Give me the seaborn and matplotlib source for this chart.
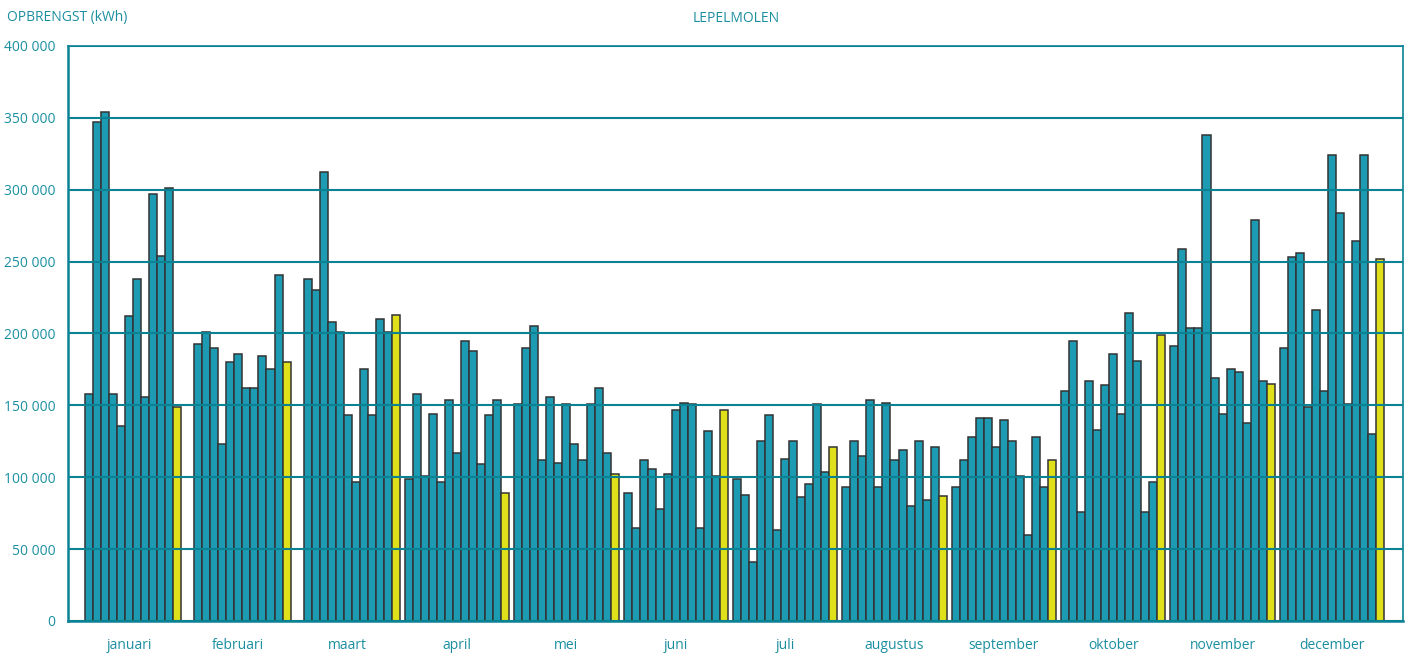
import numpy as np
import pandas as pd
import matplotlib
matplotlib.use("Agg")
import matplotlib.pyplot as plt
import seaborn as sns
from matplotlib.ticker import FuncFormatter, MultipleLocator

nan = np.nan

# opbrengst per maand (x 1000 kWh), 13 jaren, laatste jaar in geel
maanden = ["januari", "februari", "maart", "april", "mei", "juni", "juli",
           "augustus", "september", "oktober", "november", "december"]
jaren = [f"jaar {i}" for i in range(1, 14)]

januari = [nan, 158, 347, 354, 158, 136, 212, 238, 156, 297, 254, 301, 149]
februari = [nan, 193, 201, 190, 123, 180, 186, 162, 162, 184, 175, 241, 180]
maart = [nan, 238, 230, 312, 208, 201, 143, 97, 175, 143, 210, 201, 213]
april = [99, 158, 101, 144, 97, 154, 117, 195, 188, 109, 143, 154, 89]
mei = [151, 190, 205, 112, 156, 110, 151, 123, 112, 151, 162, 117, 102]
juni = [89, 65, 112, 106, 78, 102, 147, 152, 151, 65, 132, 101, 147]
juli = [99, 88, 41, 125, 143, 63, 113, 125, 86, 95, 151, 104, 121]
augustus = [93, 125, 115, 154, 93, 152, 112, 119, 80, 125, 84, 121, 87]
september = [93, 112, 128, 141, 141, 121, 140, 125, 101, 60, 128, 93, 112]
oktober = [160, 195, 76, 167, 133, 164, 186, 144, 214, 181, 76, 97, 199]
november = [191, 259, 204, 204, 338, 169, 144, 175, 173, 138, 279, 167, 165]
december = [190, 253, 256, 149, 216, 160, 324, 284, 151, 264, 324, 130, 252]

waarden = [januari, februari, maart, april, mei, juni, juli, augustus,
           september, oktober, november, december]

rows = []
for m, vals in zip(maanden, waarden):
    for j, v in zip(jaren, vals):
        rows.append({"maand": m, "jaar": j, "opbrengst": v * 1000})
df = pd.DataFrame(rows)

teal_text = "#1b8fa0"
teal_line = "#0b8294"
bar_teal = "#1c9bb3"
bar_yellow = "#dfe01a"

palette = {j: bar_teal for j in jaren}
palette[jaren[-1]] = bar_yellow

sns.set_style("white")
plt.rcParams["font.family"] = ["Open Sans", "DejaVu Sans"]

fig = plt.figure(figsize=(14.1, 6.53), dpi=100)
ax = fig.add_axes([68 / 1410, 32 / 653, 1335 / 1410, 575 / 653])

sns.barplot(data=df, x="maand", y="opbrengst", hue="jaar", order=maanden,
            hue_order=jaren, palette=palette, width=0.955, gap=0,
            edgecolor="#333333", linewidth=1.1, saturation=1, errorbar=None,
            legend=False, ax=ax, zorder=2)

ax.set_ylim(0, 400000)
ax.set_xlim(-0.558, 11.65)
ax.yaxis.set_major_locator(MultipleLocator(50000))
ax.yaxis.set_major_formatter(FuncFormatter(lambda v, p: f"{int(v):,}".replace(",", " ")))
ax.grid(axis="y", color=teal_line, linewidth=1.5, zorder=3)
ax.set_axisbelow(False)
for line in ax.get_ygridlines():
    line.set_zorder(3)

ax.set_xlabel("")
ax.set_ylabel("")
ax.tick_params(axis="y", length=0, pad=9, labelsize=10, labelcolor=teal_text)
ax.tick_params(axis="x", length=0, pad=12.5, labelsize=10, labelcolor=teal_text)

for side in ["left", "bottom"]:
    ax.spines[side].set_color(teal_line)
    ax.spines[side].set_linewidth(1.8)
for side in ["top", "right"]:
    ax.spines[side].set_color(teal_line)
    ax.spines[side].set_linewidth(1.2)

fig.text(7 / 1410, 1 - 18 / 653, "OPBRENGST (kWh)", ha="left", va="center",
         fontsize=10, color=teal_text)
fig.text(736 / 1410, 1 - 18 / 653, "LEPELMOLEN", ha="center", va="center",
         fontsize=10, color=teal_text)

fig.savefig("out.png", dpi=100)
